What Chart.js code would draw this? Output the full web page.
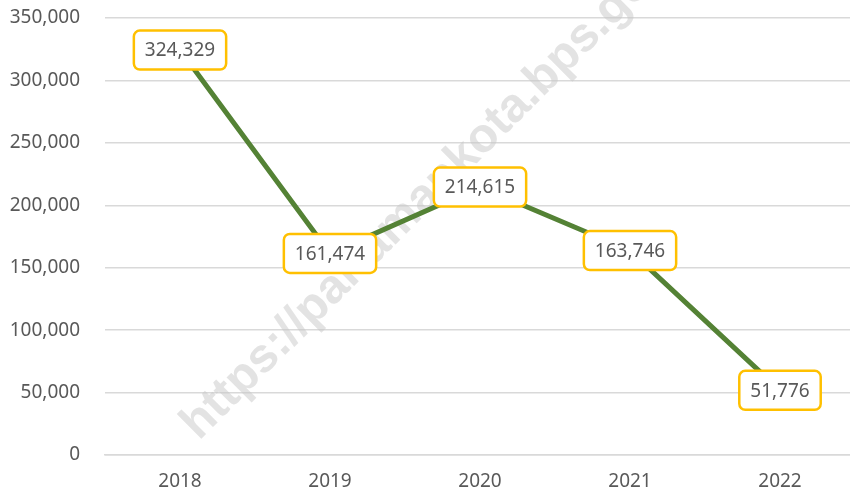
<!DOCTYPE html>
<html lang="en">
<head>
    <meta charset="UTF-8">
    <title>Chart</title>
    <script src="https://cdn.jsdelivr.net/npm/chart.js"></script>
    <style>
        html, body { margin: 0; padding: 0; overflow: hidden; background: #fff; }
        .wrap { width: 860px; height: 495px; }
    </style>
</head>
<body>
    <div class="wrap">
        <canvas id="grafico"></canvas>
    </div>
<script>
// dados do grafico
const anos = ['2018', '2019', '2020', '2021', '2022'];
const valores = [324329, 161474, 214615, 163746, 51776];
const ticksY = [0, 50000, 100000, 150000, 200000, 250000, 300000, 350000];
const marcaDagua = 'https://pariamankota.bps.go.id';

function fmt(v) {
    return v.toLocaleString('en-US');
}

// marca d'agua atras das linhas
const watermark = {
    id: 'watermark',
    beforeDatasetsDraw(chart) {
        const ctx = chart.ctx;
        ctx.save();
        ctx.translate(199, 441);
        ctx.rotate(-45 * Math.PI / 180);
        ctx.font = 'bold 48px "Liberation Sans", Arial, sans-serif';
        ctx.fillStyle = 'rgba(200,200,200,0.5)';
        ctx.textAlign = 'left';
        ctx.textBaseline = 'alphabetic';
        ctx.fillText(marcaDagua, 0, 0);
        ctx.restore();
    }
};

// caixas com os valores
const rotulos = {
    id: 'rotulos',
    afterDatasetsDraw(chart) {
        const ctx = chart.ctx;
        const meta = chart.getDatasetMeta(0);
        ctx.save();
        ctx.font = '19px "Noto Sans", sans-serif';
        ctx.textAlign = 'center';
        ctx.textBaseline = 'middle';
        meta.data.forEach(function (p, i) {
            const txt = fmt(valores[i]);
            const w = ctx.measureText(txt).width + 22;
            const h = 39;
            const x = p.x - w / 2;
            const y = p.y - h / 2;
            ctx.beginPath();
            ctx.roundRect(x, y, w, h, 6);
            ctx.fillStyle = '#ffffff';
            ctx.fill();
            ctx.lineWidth = 2.5;
            ctx.strokeStyle = '#FFC000';
            ctx.stroke();
            ctx.fillStyle = '#595959';
            ctx.fillText(txt, p.x, p.y + 1);
        });
        ctx.restore();
    }
};

new Chart(document.getElementById('grafico'), {
    type: 'line',
    data: {
        labels: anos,
        datasets: [{
            data: valores,
            borderColor: '#548235',
            borderWidth: 5,
            pointRadius: 0,
            tension: 0,
            fill: false
        }]
    },
    options: {
        responsive: true,
        maintainAspectRatio: false,
        animation: false,
        layout: { padding: { top: 18, right: 5, bottom: 2, left: 0 } },
        plugins: {
            legend: { display: false },
            tooltip: { enabled: false }
        },
        scales: {
            x: {
                offset: true,
                afterFit(s) { s.height = 38; },
                grid: { display: false, drawTicks: false },
                border: { display: true, color: '#d9d9d9', width: 1.5 },
                ticks: {
                    color: '#595959',
                    font: { family: '"Noto Sans", sans-serif', size: 19 },
                    padding: 15,
                    maxRotation: 0
                }
            },
            y: {
                min: 0,
                max: 350000,
                afterFit(s) {
                    s.width = 105;
                    s.paddingTop = 0;
                    s.paddingBottom = 0;
                },
                afterBuildTicks(s) { s.ticks = ticksY.map(v => ({ value: v })); },
                grid: { color: '#d9d9d9', lineWidth: 1.5, drawTicks: false },
                border: { display: false },
                ticks: {
                    color: '#595959',
                    font: { family: '"Noto Sans", sans-serif', size: 19 },
                    padding: 25,
                    callback: v => fmt(v)
                }
            }
        }
    },
    plugins: [watermark, rotulos]
});
</script>
</body>
</html>
